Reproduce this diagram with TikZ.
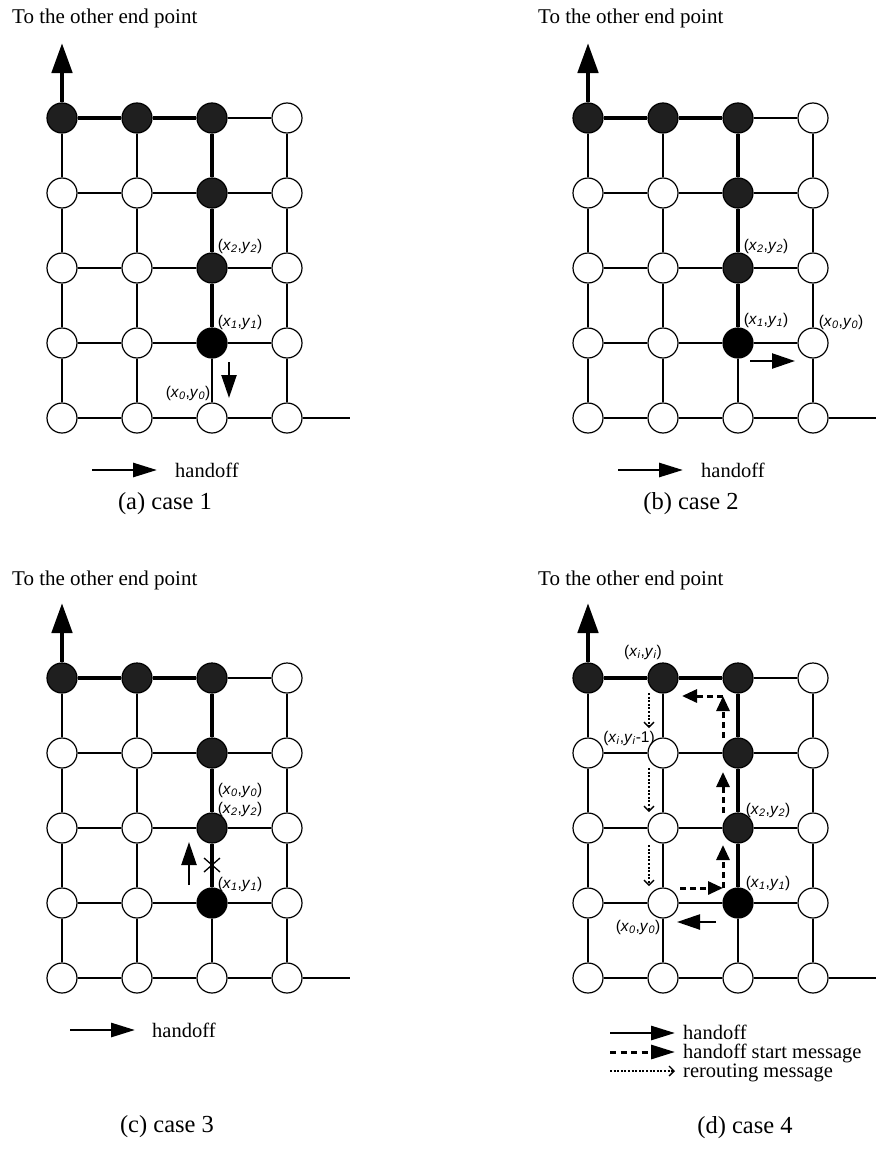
\documentclass[tikz,border=0pt]{standalone}
\usepackage{fontspec}
\setmainfont{Liberation Serif}
\newfontfamily\labfont{Liberation Sans}
\usetikzlibrary{arrows.meta}
\pgfdeclarelayer{bg}
\pgfsetlayers{bg,main}
\newcommand\xylab[2]{(\textit{x}\textsubscript{\textit{#1}},\textit{y}\textsubscript{\textit{#2}})}
\tikzset{
 gnode/.style={circle, draw=black, line width=1.2pt, minimum size=30pt, inner sep=0pt},
 wnode/.style={gnode, fill=white},
 bnode/.style={gnode, fill=black!88},
 xnode/.style={gnode, fill=black},
 thinedge/.style={line width=1.6pt},
 midedge/.style={line width=2.6pt},
 thickedge/.style={line width=4.8pt},
 bigarrow/.style={line width=4.8pt, -{Triangle[length=30pt,width=20pt]}},
 hoarrow/.style={line width=2.4pt, -{Triangle[length=23pt,width=15pt]}},
 legarrow/.style={line width=2.8pt, -{Triangle[length=24pt,width=14pt]}},
 startmsg/.style={line width=3pt, dash pattern=on 6pt off 4pt, -{Triangle[length=15pt,width=13pt]}},
 legstart/.style={line width=3pt, dash pattern=on 6pt off 4.5pt, -{Triangle[length=24pt,width=14pt]}},
 reroute/.style={line width=1.3pt, dash pattern=on 2pt off 1.6pt, -{Straight Barb[length=5pt,width=10pt]}},
 crossline/.style={line width=1.3pt},
 ttl/.style={font=\fontsize{21}{25}\selectfont, anchor=base west, inner sep=0pt},
 legtext/.style={font=\fontsize{20.5}{24}\selectfont, anchor=base west, inner sep=0pt},
 captext/.style={font=\fontsize{24.5}{28}\selectfont, inner sep=0pt},
 lab/.style={font=\labfont\fontsize{15.5}{17}\selectfont, inner sep=0pt},
}
\newcommand\gridpanel[3]{%
 \begin{scope}[shift={(#2,#3)}]
 \foreach \c/\r/\s in {1/1/bnode,2/1/bnode,3/1/bnode,4/1/wnode,
   1/2/wnode,2/2/wnode,3/2/bnode,4/2/wnode,
   1/3/wnode,2/3/wnode,3/3/bnode,4/3/wnode,
   1/4/wnode,2/4/wnode,3/4/xnode,4/4/wnode,
   1/5/wnode,2/5/wnode,3/5/wnode,4/5/wnode}
   {\node[\s] (#1-\c-\r) at ({62+75*(\c-1)},{118+75*(\r-1)}) {};}
 \coordinate (#1-end) at (350,418);
 \coordinate (#1-top) at (62,43);
 \begin{pgfonlayer}{bg}
 \foreach \r in {1,...,5}{\foreach \c/\n in {1/2,2/3,3/4}{\draw[thinedge] (#1-\c-\r) -- (#1-\n-\r);}}
 \foreach \c in {1,...,4}{\foreach \r/\n in {1/2,2/3,3/4,4/5}{\draw[thinedge] (#1-\c-\r) -- (#1-\c-\n);}}
 \draw[thinedge] (#1-4-5) -- (#1-end);
 \draw[thickedge] (#1-1-1) -- (#1-2-1);
 \draw[thickedge] (#1-2-1) -- (#1-3-1);
 \draw[thickedge] (#1-3-1) -- (#1-3-2);
 \draw[thickedge] (#1-3-2) -- (#1-3-3);
 \draw[thickedge] (#1-3-3) -- (#1-3-4);
 \draw[midedge] (#1-3-3) -- (#1-4-3);
 \end{pgfonlayer}
 \draw[bigarrow] (#1-1-1) -- (#1-top);
 \end{scope}}
\begin{document}
\begin{tikzpicture}[x=1pt,y=-1pt]
\useasboundingbox (0,0) rectangle (878,1164);

% ---------- titles ----------
\node[ttl] (ta) at (12,24) {To the other end point};
\node[ttl] (tb) at (538,24) {To the other end point};
\node[ttl] (tc) at (12,585) {To the other end point};
\node[ttl] (td) at (538,585) {To the other end point};

% ---------- grids ----------
\gridpanel{a}{0}{0}
\gridpanel{b}{526}{0}
\gridpanel{c}{0}{560}
\gridpanel{d}{526}{560}
\begin{pgfonlayer}{bg}
\draw[midedge] (d-2-1) -- (d-2-2);
\draw[midedge] (d-2-2) -- (d-2-3);
\draw[midedge] (d-2-3) -- (d-2-4);
\end{pgfonlayer}

% ---------- panel (a) ----------
\node[lab] (a-lx2) at (240,246) {\xylab{2}{2}};
\node[lab] (a-lx1) at (240,322) {\xylab{1}{1}};
\node[lab] (a-lx0) at (188,393) {\xylab{0}{0}};
\coordinate (a-h1) at (229,362);
\coordinate (a-h2) at (229,398);
\draw[hoarrow] (a-h1) -- (a-h2);
\coordinate (a-l1) at (92,470);
\coordinate (a-l2) at (157,470);
\draw[legarrow] (a-l1) -- (a-l2);
\node[legtext] (a-lt) at (175,477) {handoff};
\node[captext] (a-cap) at (165,504) {(a) case 1};

% ---------- panel (b) ----------
\node[lab] (b-lx2) at (766,246) {\xylab{2}{2}};
\node[lab] (b-lx1) at (766,320) {\xylab{1}{1}};
\node[lab] (b-lx0) at (841,322) {\xylab{0}{0}};
\coordinate (b-h1) at (750,361);
\coordinate (b-h2) at (795,361);
\draw[hoarrow] (b-h1) -- (b-h2);
\coordinate (b-l1) at (618,470);
\coordinate (b-l2) at (683,470);
\draw[legarrow] (b-l1) -- (b-l2);
\node[legtext] (b-lt) at (701,477) {handoff};
\node[captext] (b-cap) at (691,504) {(b) case 2};

% ---------- panel (c) ----------
\node[lab] (c-lx0) at (240,790) {\xylab{0}{0}};
\node[lab] (c-lx2) at (240,809) {\xylab{2}{2}};
\node[lab] (c-lx1) at (240,884) {\xylab{1}{1}};
\coordinate (c-h1) at (189,885);
\coordinate (c-h2) at (189,842);
\draw[hoarrow] (c-h1) -- (c-h2);
\coordinate (c-x1) at (204,858);
\coordinate (c-x2) at (220,872);
\coordinate (c-x3) at (204,872);
\coordinate (c-x4) at (220,858);
\draw[crossline] (c-x1) -- (c-x2);
\draw[crossline] (c-x3) -- (c-x4);
\coordinate (c-l1) at (70,1030);
\coordinate (c-l2) at (135,1030);
\draw[legarrow] (c-l1) -- (c-l2);
\node[legtext] (c-lt) at (152,1037) {handoff};
\node[captext] (c-cap) at (167,1127) {(c) case 3};

% ---------- panel (d) ----------
\node[lab] (d-lxi) at (643,652) {\xylab{i}{i}};
\node[lab] (d-lxim) at (629,738) {(\textit{x}\textsubscript{\textit{i}},\textit{y}\textsubscript{\textit{i}}-1)};
\node[lab] (d-lx2) at (768,810) {\xylab{2}{2}};
\node[lab] (d-lx1) at (768,883) {\xylab{1}{1}};
\node[lab] (d-lx0) at (638,927) {\xylab{0}{0}};
\coordinate (d-h1) at (716,922);
\coordinate (d-h2) at (677,922);
\draw[hoarrow] (d-h1) -- (d-h2);
% handoff start messages
\coordinate (d-s0) at (680,888);
\coordinate (d-s1) at (723,888);
\coordinate (d-s2) at (723,845);
\coordinate (d-s3) at (723,813);
\coordinate (d-s4) at (723,772);
\coordinate (d-s5) at (723,738);
\coordinate (d-s6) at (723,696);
\coordinate (d-s7) at (682,696);
\draw[startmsg] (d-s0) -- (d-s1);
\draw[startmsg] (d-s1) -- (d-s2);
\draw[startmsg] (d-s3) -- (d-s4);
\draw[startmsg] (d-s5) -- (d-s6);
\draw[startmsg] (d-s6) -- (d-s7);
% rerouting messages
\coordinate (d-r1) at (649,693);
\coordinate (d-r2) at (649,728);
\coordinate (d-r3) at (649,768);
\coordinate (d-r4) at (649,812);
\coordinate (d-r5) at (649,845);
\coordinate (d-r6) at (649,886);
\draw[reroute] (d-r1) -- (d-r2);
\draw[reroute] (d-r3) -- (d-r4);
\draw[reroute] (d-r5) -- (d-r6);
% legend
\coordinate (d-l1) at (610,1033);
\coordinate (d-l2) at (675,1033);
\coordinate (d-l3) at (610,1052);
\coordinate (d-l4) at (675,1052);
\coordinate (d-l5) at (610,1071);
\coordinate (d-l6) at (675,1071);
\draw[legarrow] (d-l1) -- (d-l2);
\draw[legstart] (d-l3) -- (d-l4);
\draw[reroute] (d-l5) -- (d-l6);
\node[legtext] (d-lt1) at (683,1039) {handoff};
\node[legtext] (d-lt2) at (683,1058) {handoff start message};
\node[legtext] (d-lt3) at (683,1077) {rerouting message};
\node[captext] (d-cap) at (745,1128) {(d) case 4};
\end{tikzpicture}
\end{document}
